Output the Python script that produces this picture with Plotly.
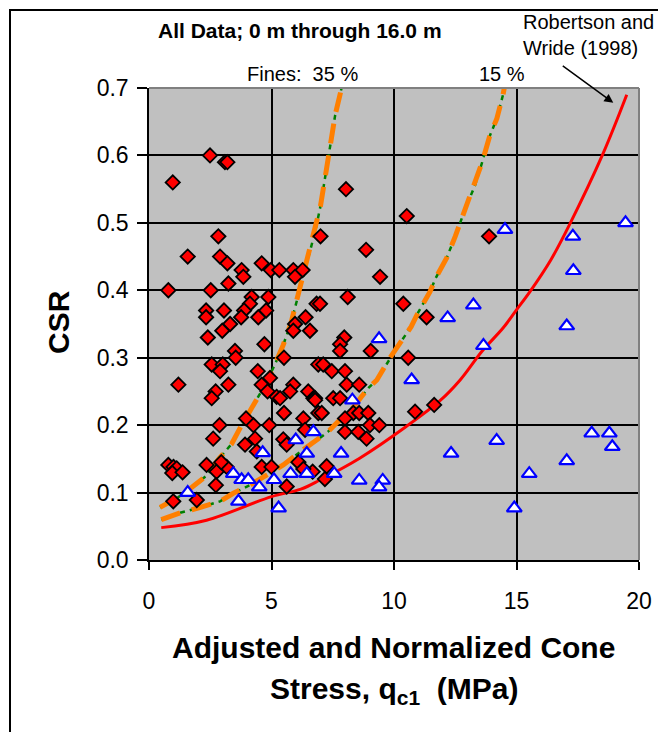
import plotly.graph_objects as go

# Liquefaction data (red diamonds)
liq_x = [0.97, 2.49, 3.1, 3.2, 2.83, 1.58, 2.9, 4.6, 8.04, 10.52, 7.0, 8.86, 13.88,
         3.2, 3.78, 3.85, 3.24, 4.97, 5.32, 5.89, 6.27, 5.96, 0.79, 2.52, 4.19, 4.87, 4.12,
         2.33, 2.33, 3.06, 3.88, 3.76, 4.78, 4.46, 3.31, 2.99, 2.4, 4.71, 3.51, 3.54, 2.56,
         3.01, 2.9, 4.44, 1.2, 3.24, 2.72, 2.56, 4.6, 4.94, 4.84, 5.21, 5.35, 5.51, 5.89,
         5.76, 6.5, 6.71, 5.51, 6.3, 2.88, 4.26, 4.91, 3.96, 6.84, 6.39, 5.96, 6.57, 5.89,
         6.91, 6.91,
         9.43, 8.11, 6.98, 7.97, 7.8, 7.8, 9.05, 10.38, 11.33, 10.58, 7.11, 7.46, 8.0, 8.07,
         8.58, 6.78, 7.52, 7.8, 7.05, 8.34, 8.58, 8.95, 8.0, 9.02, 9.4, 10.86, 11.64,
         8.0, 8.54, 8.88, 6.37, 7.25, 7.18, 6.68, 6.1, 6.3,
         2.62, 3.92, 4.33, 4.4, 4.6, 5.0, 5.48, 5.62, 0.79, 1.0, 1.13, 0.95, 1.37, 0.99,
         1.95, 2.35, 2.76, 2.73, 3.17, 2.95, 5.62, 6.78]
liq_y = [0.56, 0.60, 0.59, 0.59, 0.48, 0.45, 0.45, 0.44, 0.55, 0.51, 0.48, 0.46, 0.48,
         0.44, 0.43, 0.42, 0.41, 0.43, 0.43, 0.43, 0.43, 0.42, 0.40, 0.40, 0.39, 0.39, 0.38,
         0.37, 0.36, 0.37, 0.37, 0.36, 0.37, 0.36, 0.35, 0.34, 0.33, 0.32, 0.31, 0.30, 0.29,
         0.29, 0.28, 0.28, 0.26, 0.26, 0.25, 0.24, 0.26, 0.27, 0.25, 0.242, 0.24, 0.30, 0.26,
         0.25, 0.25, 0.24, 0.218, 0.21, 0.20, 0.20, 0.20, 0.21, 0.38, 0.36, 0.35, 0.34, 0.34,
         0.29, 0.218,
         0.42, 0.39, 0.38, 0.33, 0.32, 0.31, 0.31, 0.38, 0.36, 0.30, 0.29, 0.28, 0.28, 0.26,
         0.26, 0.24, 0.24, 0.24, 0.218, 0.218, 0.218, 0.218, 0.21, 0.20, 0.20, 0.22, 0.23,
         0.19, 0.19, 0.18, 0.193, 0.139, 0.12, 0.131, 0.145, 0.135,
         0.18, 0.171, 0.18, 0.161, 0.138, 0.138, 0.179, 0.171, 0.141, 0.138, 0.136, 0.129, 0.13, 0.087,
         0.089, 0.141, 0.131, 0.111, 0.138, 0.145, 0.109, 0.237]

# No-liquefaction data (open triangles)
noliq_x = [1.58, 3.44, 3.78, 4.05, 3.65, 4.5, 4.64, 5.1, 5.29, 5.78, 6.44, 6.44, 5.99, 6.71,
           7.84, 7.56, 8.58, 9.54, 9.39, 8.3, 9.39, 10.72, 12.19, 13.24, 13.65, 12.33, 14.53,
           17.3, 19.45, 17.32, 17.05, 14.19, 18.07, 18.79, 18.91, 17.05, 15.52, 14.91]
noliq_y = [0.10, 0.128, 0.119, 0.119, 0.087, 0.108, 0.159, 0.119, 0.077, 0.128, 0.128, 0.158,
           0.178, 0.19, 0.158, 0.128, 0.118, 0.118, 0.108, 0.237, 0.328, 0.267, 0.359, 0.378,
           0.318, 0.158, 0.49, 0.48, 0.50, 0.429, 0.347, 0.177, 0.188, 0.188, 0.168, 0.147,
           0.128, 0.077]

# Robertson and Wride (1998) curve
rw_x = [0.5, 2.35, 5.0, 6.2, 7.0, 8.6, 10.5, 11.9, 12.7, 13.6, 14.45, 15.0, 15.55, 16.4,
        17.2, 18.5, 19.5]
rw_y = [0.048, 0.059, 0.094, 0.105, 0.119, 0.151, 0.198, 0.237, 0.267, 0.31, 0.344, 0.371,
        0.398, 0.445, 0.50, 0.60, 0.69]

# Fines 35 % curve
f35_x = [0.45, 1.15, 1.75, 2.35, 2.85, 3.37, 3.75, 4.19, 4.7, 5.14, 5.48, 5.8, 6.1, 6.4,
         6.6, 6.8, 7.0, 7.2, 7.4, 7.6, 7.86, 7.92]
f35_y = [0.078, 0.092, 0.108, 0.125, 0.15, 0.172, 0.198, 0.225, 0.257, 0.29, 0.319, 0.352,
         0.395, 0.435, 0.462, 0.49, 0.525, 0.57, 0.618, 0.66, 0.70, 0.715]

# Fines 15 % curve
f15_x = [0.5, 1.27, 2.0, 2.9, 3.44, 4.12, 4.8, 5.48, 6.16, 6.84, 7.3, 7.9, 8.2, 8.95, 9.3,
         9.84, 10.1, 10.7, 11.0, 11.47, 11.7, 12.15, 12.5, 12.9, 13.3, 13.6, 13.9, 14.2,
         14.45, 14.55]
f15_y = [0.06, 0.07, 0.077, 0.087, 0.099, 0.111, 0.126, 0.141, 0.16, 0.177, 0.19, 0.212,
         0.22, 0.255, 0.267, 0.30, 0.314, 0.346, 0.368, 0.398, 0.418, 0.448, 0.48, 0.52,
         0.555, 0.59, 0.628, 0.655, 0.69, 0.71]

FONT = "Liberation Sans, Arial, sans-serif"
W, H = 658, 732
L, R, T, B = 149, 639, 88, 560  # plot area in pixels


def px(x):
    return (x - L) / (R - L)


def py(y):
    return (B - y) / (B - T)


fig = go.Figure()

for cx, cy in [(f35_x, f35_y), (f15_x, f15_y)]:
    fig.add_trace(go.Scatter(x=cx, y=cy, mode="lines",
                             line=dict(color="#008000", width=2.5, dash="5px,5px"),
                             hoverinfo="skip"))
    fig.add_trace(go.Scatter(x=cx, y=cy, mode="lines",
                             line=dict(color="#FF7F00", width=5, dash="20px,12px"),
                             hoverinfo="skip"))

fig.add_trace(go.Scatter(x=rw_x, y=rw_y, mode="lines", line=dict(color="#FF0000", width=3),
                         line_shape="spline", hoverinfo="skip"))

fig.add_trace(go.Scatter(x=liq_x, y=liq_y, mode="markers",
                         marker=dict(symbol="diamond", size=11, color="#FF0000",
                                     line=dict(color="black", width=1.8))))
fig.add_trace(go.Scatter(x=noliq_x, y=noliq_y, mode="markers",
                         marker=dict(symbol="triangle-up", size=13, color="white",
                                     line=dict(color="#0000FF", width=2.2))))

fig.update_layout(
    template="none",
    width=W, height=H, autosize=False,
    margin=dict(l=L, r=W - R, t=T, b=H - B, pad=0, autoexpand=False),
    paper_bgcolor="white", plot_bgcolor="#C0C0C0",
    showlegend=False,
    font=dict(family=FONT, color="black"),
    xaxis=dict(range=[0, 20], tickvals=[0, 5, 10, 15, 20], showgrid=True, gridcolor="black",
               gridwidth=1.5, showline=True, linecolor="black", linewidth=1.5,
               ticks="outside", ticklen=8, tickcolor="black", tickwidth=1.5,
               tickfont=dict(size=23, family=FONT), zeroline=False, automargin=False,
               ticklabelstandoff=12),
    yaxis=dict(range=[0, 0.7], tickvals=[0, 0.1, 0.2, 0.3, 0.4, 0.5, 0.6, 0.7],
               tickformat=".1f", showgrid=True, gridcolor="black", gridwidth=1.5,
               showline=True, linecolor="black", linewidth=1.5,
               ticks="outside", ticklen=10, tickcolor="black", tickwidth=1.5,
               tickfont=dict(size=23, family=FONT), zeroline=False, automargin=False,
               ticklabelstandoff=4),
)

shapes = [
    dict(type="line", xref="paper", yref="paper", x0=0, x1=1, y0=1, y1=1,
         line=dict(color="#808080", width=2), layer="above"),
    dict(type="line", xref="paper", yref="paper", x0=1, x1=1, y0=0, y1=1,
         line=dict(color="#808080", width=2), layer="above"),
    dict(type="rect", xref="paper", yref="paper", x0=px(10), x1=px(680), y0=py(745),
         y1=py(10), line=dict(color="black", width=2), fillcolor="rgba(0,0,0,0)",
         layer="above"),
]
fig.update_layout(shapes=shapes)

ann = []
ann.append(dict(text="<b>All Data; 0 m through 16.0 m</b>", xref="paper", yref="paper",
                x=px(156), y=py(31), xanchor="left", yanchor="middle", showarrow=False,
                font=dict(size=21, family=FONT)))
ann.append(dict(text="Fines:\u00a0 35 %", xref="paper", yref="paper",
                x=px(245), y=py(74), xanchor="left", yanchor="middle", showarrow=False,
                font=dict(size=20, family=FONT)))
ann.append(dict(text="15 %", xref="paper", yref="paper",
                x=px(477), y=py(74), xanchor="left", yanchor="middle", showarrow=False,
                font=dict(size=20, family=FONT)))
ann.append(dict(text="Robertson and", xref="paper", yref="paper",
                x=px(521), y=py(22), xanchor="left", yanchor="middle", showarrow=False,
                font=dict(size=20, family=FONT)))
ann.append(dict(text="Wride (1998)", xref="paper", yref="paper",
                x=px(521), y=py(48), xanchor="left", yanchor="middle", showarrow=False,
                font=dict(size=20, family=FONT)))
ann.append(dict(text="", x=18.95, y=0.678, xref="x", yref="y", showarrow=True,
                arrowhead=2, arrowsize=1.2, arrowwidth=1.5, arrowcolor="black",
                ax=-52, ay=-38, standoff=0))
ann.append(dict(text="<b>CSR</b>", xref="paper", yref="paper", x=px(58), y=py(322),
                xanchor="center", yanchor="middle", textangle=-90, showarrow=False,
                font=dict(size=30, family=FONT)))
ann.append(dict(text="<b>Adjusted and Normalized Cone</b>", xref="paper", yref="paper",
                x=px(393), y=py(647), xanchor="center", yanchor="middle", showarrow=False,
                font=dict(size=30, family=FONT)))
ann.append(dict(text="<b>Stress, q<sub>c1</sub>\u00a0 (MPa)</b>", xref="paper", yref="paper",
                x=px(394), y=py(690), xanchor="center", yanchor="middle", showarrow=False,
                font=dict(size=30, family=FONT)))
fig.update_layout(annotations=ann)

fig.write_html("out.html", config={"displayModeBar": False})

# remove default page margin so the figure sits at the window's top-left corner
with open("out.html", encoding="utf-8") as fh:
    html = fh.read()
html = html.replace("<body>", '<body style="margin:0;padding:0;overflow:hidden">', 1)
with open("out.html", "w", encoding="utf-8") as fh:
    fh.write(html)
